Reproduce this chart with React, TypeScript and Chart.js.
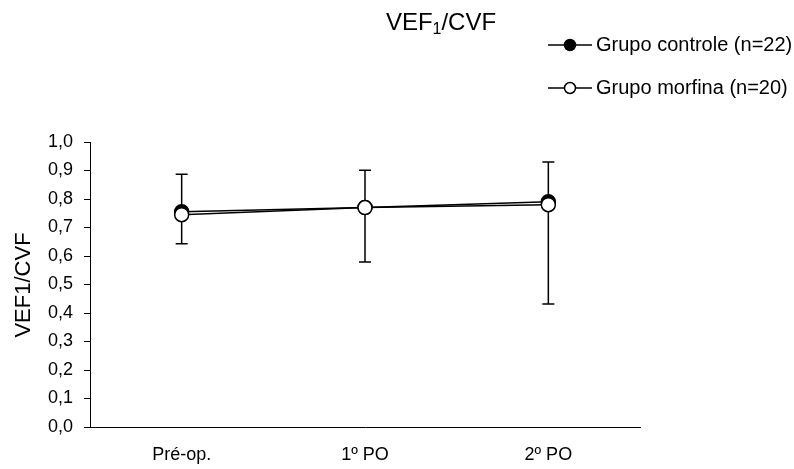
import React, { useEffect, useRef } from "react";
import { Chart, registerables } from "chart.js";

Chart.register(...registerables);

const categories = ["Pré-op.", "1º PO", "2º PO"];
const controleValues = [0.755, 0.77, 0.79];
const morfinaValues = [0.745, 0.77, 0.78];
const errorUpper = [0.887, 0.901, 0.93];
const errorLower = [0.643, 0.579, 0.432];
const legendLabels = ["Grupo controle (n=22)", "Grupo morfina (n=20)"];
const titleParts = ["VEF", "1", "/CVF"];
const yAxisTitle = "VEF1/CVF";
const yMin = 0;
const yMax = 1;
const yStep = 0.1;

const FONT = "Arial, 'Liberation Sans', sans-serif";

const errorBarPlugin = {
  id: "errorBars",
  beforeDatasetsDraw(chart: any) {
    const ctx = chart.ctx;
    const xs = chart.scales.x;
    const ys = chart.scales.y;
    ctx.save();
    ctx.strokeStyle = "#000";
    ctx.lineWidth = 1.5;
    categories.forEach((_, i) => {
      const x = xs.getPixelForValue(i);
      const yT = ys.getPixelForValue(errorUpper[i]);
      const yB = ys.getPixelForValue(errorLower[i]);
      ctx.beginPath();
      ctx.moveTo(x, yT);
      ctx.lineTo(x, yB);
      ctx.moveTo(x - 6, yT);
      ctx.lineTo(x + 6, yT);
      ctx.moveTo(x - 6, yB);
      ctx.lineTo(x + 6, yB);
      ctx.stroke();
    });
    ctx.restore();
  },
};

const decorPlugin = {
  id: "decor",
  afterDraw(chart: any) {
    const ctx = chart.ctx;
    ctx.save();
    ctx.fillStyle = "#000";
    // Title with subscript
    const big = `24px ${FONT}`;
    const small = `16px ${FONT}`;
    ctx.font = big;
    const w0 = ctx.measureText(titleParts[0]).width;
    const w2 = ctx.measureText(titleParts[2]).width;
    ctx.font = small;
    const w1 = ctx.measureText(titleParts[1]).width;
    const total = w0 + w1 + w2;
    let x = 441 - total / 2;
    const base = 30;
    ctx.textBaseline = "alphabetic";
    ctx.textAlign = "left";
    ctx.font = big;
    ctx.fillText(titleParts[0], x, base);
    x += w0;
    ctx.font = small;
    ctx.fillText(titleParts[1], x, base + 4);
    x += w1;
    ctx.font = big;
    ctx.fillText(titleParts[2], x, base);

    // Legend
    const rows = [45, 88];
    ctx.font = `20px ${FONT}`;
    ctx.textBaseline = "middle";
    rows.forEach((ry, i) => {
      ctx.strokeStyle = "#000";
      ctx.lineWidth = 1.5;
      ctx.beginPath();
      ctx.moveTo(548, ry);
      ctx.lineTo(592, ry);
      ctx.stroke();
      ctx.beginPath();
      ctx.arc(570, ry, 5.5, 0, Math.PI * 2);
      ctx.fillStyle = i === 0 ? "#000" : "#fff";
      ctx.fill();
      ctx.stroke();
      ctx.fillStyle = "#000";
      ctx.fillText(legendLabels[i], 596, ry);
    });

    // Y axis title
    ctx.translate(24, 285);
    ctx.rotate(-Math.PI / 2);
    ctx.textAlign = "center";
    ctx.textBaseline = "middle";
    ctx.font = `22px ${FONT}`;
    ctx.fillText(yAxisTitle, 0, 0);
    ctx.restore();
  },
};

export default function App() {
  const ref = useRef<HTMLCanvasElement>(null);
  useEffect(() => {
    if (!ref.current) return;
    const chart = new Chart(ref.current, {
      type: "line",
      data: {
        labels: categories,
        datasets: [
          {
            label: legendLabels[1],
            data: morfinaValues,
            borderColor: "#000",
            borderWidth: 1.5,
            backgroundColor: "#fff",
            pointBackgroundColor: "#fff",
            pointBorderColor: "#000",
            pointBorderWidth: 1.5,
            pointRadius: 7,
            tension: 0,
            order: 0,
          },
          {
            label: legendLabels[0],
            data: controleValues,
            borderColor: "#000",
            borderWidth: 1.5,
            backgroundColor: "#000",
            pointBackgroundColor: "#000",
            pointBorderColor: "#000",
            pointBorderWidth: 1.5,
            pointRadius: 7,
            tension: 0,
            order: 1,
          },
        ],
      },
      options: {
        animation: false,
        responsive: false,
        devicePixelRatio: 1,
        layout: { padding: { left: 0, right: 154, top: 142, bottom: 0 } },
        plugins: { legend: { display: false }, tooltip: { enabled: false }, title: { display: false } },
        scales: {
          x: {
            type: "category",
            offset: true,
            grid: { display: false, drawTicks: false },
            border: { display: true, color: "#000", width: 1 },
            ticks: { color: "#000", font: { family: FONT, size: 18 }, padding: 17, maxRotation: 0 },
            afterFit(scale: any) {
              scale.height = 42;
            },
          },
          y: {
            min: yMin,
            max: yMax,
            grid: { drawOnChartArea: false, drawTicks: true, tickLength: 6, color: "#000", lineWidth: 1 },
            border: { display: true, color: "#000", width: 1 },
            ticks: {
              stepSize: yStep,
              color: "#000",
              padding: 11,
              font: { family: FONT, size: 18 },
              callback: (v: any) => Number(v).toFixed(1).replace(".", ","),
            },
            afterFit(scale: any) {
              scale.width = 90;
            },
          },
        },
      },
      plugins: [errorBarPlugin, decorPlugin],
    });
    return () => chart.destroy();
  }, []);
  return (
    <div style={{ position: "absolute", left: 0, top: 0, width: 794, height: 469, background: "#fff" }}>
      <canvas ref={ref} width={794} height={469} style={{ width: 794, height: 469, display: "block" }} />
    </div>
  );
}
